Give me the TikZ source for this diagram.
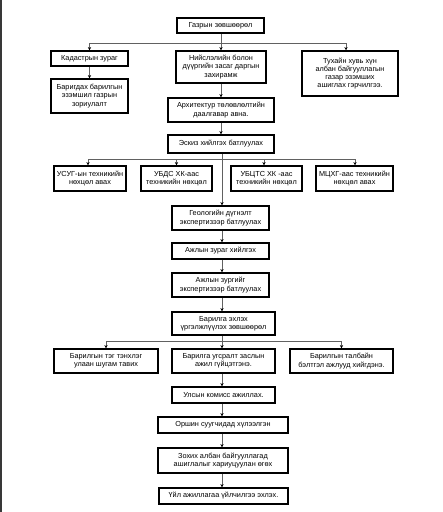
\documentclass[tikz,border=0pt]{standalone}
\usepackage{fontspec}
\setmainfont{Liberation Sans}
\usetikzlibrary{arrows.meta}
\begin{document}
\begin{tikzpicture}[x=1pt,y=-1pt,
  bx/.style={draw=black,line width=1.5pt,fill=white,inner sep=0pt,align=center,
    font=\fontsize{7.3}{8.2}\selectfont},
  conn/.style={draw=black!62,line width=0.6pt},
  arr/.style={conn,-{Stealth[length=3.2pt,width=3.2pt,black]}}]
\useasboundingbox (0,0) rectangle (443,512);
\fill[black!78] (0,0) rectangle (1.6,512);
\newcommand{\bx}[6]{\node[bx,minimum width={#4-#2},minimum height={#5-#3}] (#1) at ({(#2+#4)/2},{(#3+#5)/2}) {#6};}
\bx{gz}{177}{18}{264}{33}{Газрын зөвшөөрөл}
\bx{kd}{51}{51}{128}{66}{Кадастрын зураг}
\bx{ns}{176}{51}{266}{83}{Нийслэлийн болон\\дүүргийн засаг даргын\\захирамж}
\bx{th}{302}{51}{398}{96}{Тухайн хувь хүн\\албан байгууллагын\\газар эзэмших\\ашиглах гэрчилгээ.}
\bx{bg}{51}{79}{128}{113}{Баригдах барилгын\\эзэмшил газрын\\зориулалт}
\bx{ar}{168}{98}{274}{122}{Архитектур төлөвлөлтийн\\даалгавар авна.}
\bx{es}{168}{135}{274}{153}{Эскиз хийлгэх батлуулах}
\bx{us}{54}{166}{126}{191}{УСУГ-ын техникийн\\нөхцөл авах}
\bx{ub}{141}{166}{212}{191}{УБДС ХК-аас\\техникийн нөхцөл}
\bx{uc}{231}{166}{302}{191}{УБЦТС ХК -аас\\техникийн нөхцөл}
\bx{mc}{316}{166}{393}{191}{МЦХГ-аас техникийн\\нөхцөл авах}
\bx{ge}{172}{206}{269}{230}{Геологийн дүгнэлт\\экспертизээр батлуулах}
\bx{az}{172}{243}{269}{259}{Ажлын зураг хийлгэх}
\bx{azb}{172}{273}{269}{297}{Ажлын зургийг\\экспертизээр батлуулах}
\bx{be}{172}{312}{275}{335}{Барилга эхлэх\\үргэлжлүүлэх зөвшөөрөл}
\bx{bt}{54}{349}{158}{373}{Барилгын тэг тэнхлэг\\улаан шугам тавих}
\bx{bu}{172}{349}{275}{373}{Барилга угсралт заслын\\ажил гүйцэтгэнэ.}
\bx{bb}{290}{349}{393}{373}{Барилгын талбайн\\бэлтгэл ажлууд хийгдэнэ.}
\bx{uk}{172}{387}{275}{403}{Улсын комисс ажиллах.}
\bx{os}{158}{417}{288}{433}{Оршин суугчидад хүлээлгэн}
\bx{zo}{158}{448}{288}{473}{Зохих албан байгууллагад\\ашиглалыг хариуцуулан өгөх}
\bx{ui}{159}{488}{288}{504}{Үйл ажиллагаа үйлчилгээ эхлэх.}
% branch points
\coordinate (b1) at (221,43);
\coordinate (b2) at (222,159);
\coordinate (b3) at (222,341);
% top branch
\draw[arr] (gz.south -| b1) -- (ns.north -| b1);
\draw[arr] (b1) -| (kd.north);
\draw[arr] (b1) -| ([xshift=-4pt]th.north);
\draw[arr] (kd.south) -- (bg.north);
\draw[arr] (ns.south -| b1) -- (ar.north -| b1);
\draw[arr] (ar.south -| b1) -- (es.north -| b1);
% second branch
\draw[arr] (es.south -| b2) -- (ge.north -| b2);
\draw[arr] (b2) -| ([xshift=-2pt]us.north);
\draw[arr] (b2) -| (ub.north);
\draw[arr] (b2) -| ([xshift=-2.5pt]uc.north);
\draw[arr] (b2) -| ([xshift=0.5pt]mc.north);
\draw[arr] (ge.south -| b2) -- (az.north -| b2);
\draw[arr] (az.south -| b2) -- (azb.north -| b2);
\draw[arr] (azb.south -| b2) -- (be.north -| b2);
% third branch
\draw[arr] (be.south -| b3) -- (bu.north -| b3);
\draw[arr] (b3) -| (bt.north);
\draw[arr] (b3) -| (bb.north);
\draw[arr] (bu.south -| b3) -- (uk.north -| b3);
\draw[arr] (uk.south -| b3) -- (os.north -| b3);
\draw[arr] (os.south -| b3) -- (zo.north -| b3);
\draw[arr] (zo.south -| b3) -- (ui.north -| b3);
\end{tikzpicture}
\end{document}
